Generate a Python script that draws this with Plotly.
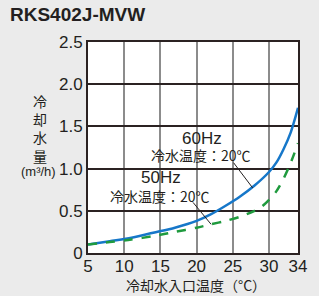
import plotly.graph_objects as go

# Data
temp_60hz = [5, 8, 11, 14, 17, 20, 22, 24, 26, 28, 30, 31, 32, 33, 34]
flow_60hz = [0.10, 0.14, 0.18, 0.24, 0.30, 0.38, 0.46, 0.56, 0.67, 0.80, 0.96, 1.07, 1.23, 1.43, 1.72]
temp_50hz = [5, 8, 11, 14, 17, 20, 22, 24, 26, 28, 29, 30, 31, 32, 33, 34]
flow_50hz = [0.10, 0.13, 0.16, 0.20, 0.25, 0.30, 0.34, 0.38, 0.43, 0.50, 0.55, 0.63, 0.73, 0.88, 1.07, 1.30]
x_ticks = [5, 10, 15, 20, 25, 30, 34]
y_ticks = [0, 0.5, 1.0, 1.5, 2.0, 2.5]
y_tick_text = ["0", "0.5", "1.0", "1.5", "2.0", "2.5"]

TXT = "#231f20"
FONT = "Liberation Sans, Arial, sans-serif"
CJK = "Noto Sans CJK JP, sans-serif"

fig = go.Figure()
fig.add_trace(go.Scatter(x=temp_60hz, y=flow_60hz, mode="lines",
                         line=dict(color="#1677c9", width=2.5, shape="spline", smoothing=0.8),
                         showlegend=False, hoverinfo="skip"))
fig.add_trace(go.Scatter(x=temp_50hz, y=flow_50hz, mode="lines",
                         line=dict(color="#1f9a3e", width=2.5, dash="dash", shape="spline", smoothing=0.8),
                         showlegend=False, hoverinfo="skip"))

fig.update_layout(
    width=319, height=296,
    margin=dict(l=88, r=12, t=42, b=43),
    paper_bgcolor="#ebebeb", plot_bgcolor="white",
    font=dict(family=FONT, color=TXT),
    xaxis=dict(range=[5, 34], tickvals=x_ticks, ticktext=[str(v) for v in x_ticks],
               showgrid=True, gridcolor="#8c8c8c", gridwidth=1.5,
               showline=True, linecolor="#2b2222", linewidth=2, mirror=True,
               ticks="", tickfont=dict(size=17, family=FONT, color=TXT),
               ticklabelstandoff=-3, zeroline=False),
    yaxis=dict(range=[0, 2.5], tickvals=y_ticks, ticktext=y_tick_text,
               showgrid=True, gridcolor="#2b2222", gridwidth=1.5,
               showline=True, linecolor="#2b2222", linewidth=2, mirror=True,
               ticks="", tickfont=dict(size=17, family=FONT, color=TXT),
               zeroline=False),
)

PH = 211.0
PW = 219.0
def py(px):  # pixel y -> paper y
    return (253.0 - px) / PH
def px_(px):  # pixel x -> paper x
    return (px - 88.0) / PW

# Title
fig.add_annotation(text="<b>RKS402J-MVW</b>", xref="paper", yref="paper", x=px_(5), y=py(15),
                   xanchor="left", yanchor="middle", showarrow=False,
                   font=dict(size=19, family=FONT, color=TXT))
# X axis title
fig.add_annotation(text="冷却水入口温度（°C）", xref="paper", yref="paper", x=px_(201), y=py(285),
                   xanchor="center", yanchor="middle", showarrow=False,
                   font=dict(size=14, family=CJK, color=TXT))
# Y axis title
fig.add_annotation(text="冷<br>却<br>水<br>量", xref="paper", yref="paper", x=px_(38), y=py(128),
                   xanchor="center", yanchor="middle", showarrow=False,
                   font=dict(size=14, family=CJK, color=TXT))
fig.add_annotation(text="(m³/h)", xref="paper", yref="paper", x=px_(36), y=py(172),
                   xanchor="center", yanchor="middle", showarrow=False,
                   font=dict(size=13, family=FONT, color=TXT))

# Curve labels
labels = [("60Hz", 20.7, 1.36, 17, FONT), ("冷水温度：20℃", 20.6, 1.16, 14, CJK),
          ("50Hz", 15.1, 0.89, 17, FONT), ("冷水温度：20℃", 14.9, 0.67, 14, CJK)]
for t, x, y, s, f in labels:
    fig.add_annotation(text=t, x=x, y=y, showarrow=False, xanchor="center", yanchor="middle",
                       font=dict(size=s, family=f, color=TXT))

# Leader lines
fig.add_shape(type="line", x0=25.1, y0=1.07, x1=27.75, y1=0.77, line=dict(color=TXT, width=1))
fig.add_shape(type="line", x0=19.5, y0=0.60, x1=22.0, y1=0.34, line=dict(color=TXT, width=1))

fig.write_html("out.html", config={"displayModeBar": False},
               post_script="document.body.style.margin='0px';document.body.style.overflow='hidden';")
